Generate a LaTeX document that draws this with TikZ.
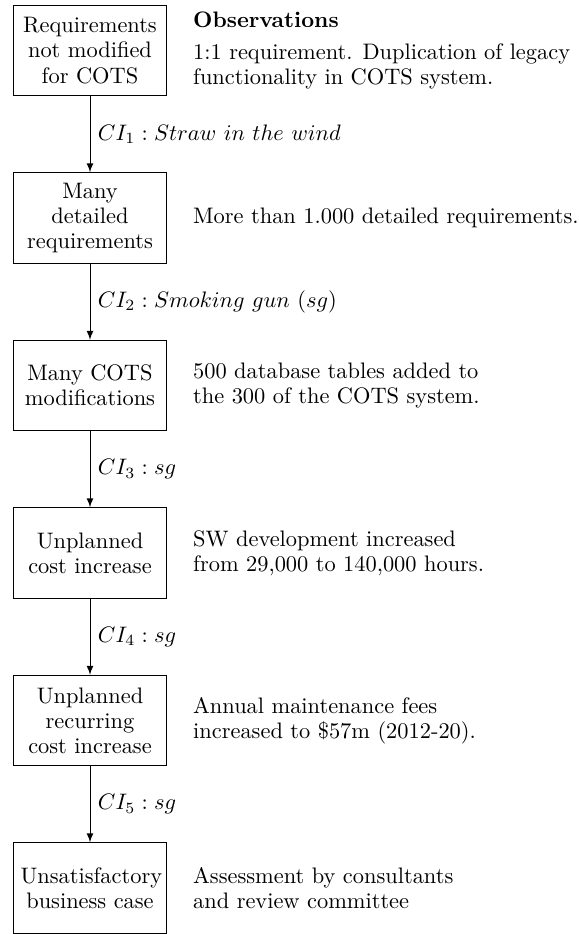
\documentclass[tikz,border=0pt]{standalone}
\usepackage{tikz}
\usetikzlibrary{positioning}
\tikzset{
  cause/.style={draw, text width=62pt, align=center, minimum height=40.4pt, inner sep=3.33pt},
  obs/.style={align=left, inner sep=3.33pt},
  link/.style={-latex},
}

\begin{document}
\begin{tikzpicture}[x=0.4464pt, y=-0.4464pt, font=\fontsize{10}{11.2}\selectfont]
		%%%%% START %%%%%
		\useasboundingbox (0,0) rectangle (579,934);
		
		\node[cause] (req) at (90, 50.5) {Requirements not modified for COTS};
		\node[cause] (detail) at (90, 218) {Many detailed requirements};
		\node[cause] (mods) at (90, 385.5) {Many COTS modifications};
		\node[cause] (cost) at (90, 553) {Unplanned cost increase};
		\node[cause] (recur) at (90, 720.5) {Unplanned recurring cost increase};
		\node[cause] (case) at (90, 888) {Unsatisfactory business case};
		
		\node[obs, right=8pt of req] (reqobs) {\textbf{Observations}\\[3pt]
			1:1 requirement. Duplication of legacy\\functionality in COTS system.};
		\node[obs, right=8pt of detail] (detailobs) {More than 1.000 detailed requirements.};
		\node[obs, right=8pt of mods] (modsobs) {500 database tables added to\\the 300 of the COTS system.};
		\node[obs, right=8pt of cost] (costobs) {SW development increased\\from 29,000 to 140,000 hours.};
		\node[obs, right=8pt of recur] (recurobs) {Annual maintenance fees\\increased to \$57m (2012-20).};
		\node[obs, right=8pt of case] (caseobs) {Assessment by consultants\\and review committee};
		
		\draw[link] (req) -- node[right] {$CI_1 : Straw\ in\ the\ wind$} (detail);
		\draw[link] (detail) -- node[right] {$CI_2 : Smoking\ gun\ (sg)$} (mods);
		\draw[link] (mods) -- node[right] {$CI_3 : sg$} (cost);
		\draw[link] (cost) -- node[right] {$CI_4 : sg$} (recur);
		\draw[link] (recur) -- node[right] {$CI_5 : sg$} (case);
		
		%%%%% END %%%%%
	\end{tikzpicture}
\end{document}
